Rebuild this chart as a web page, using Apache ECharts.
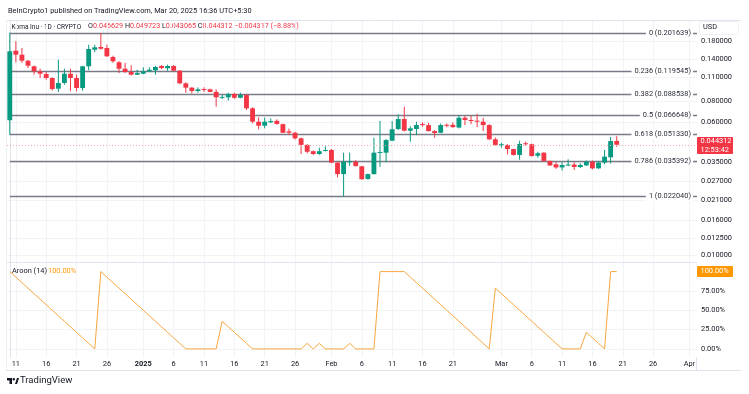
<!DOCTYPE html>
<html><head><meta charset="utf-8">
<script src="https://cdn.jsdelivr.net/npm/echarts@6/dist/echarts.min.js"></script>
<style>html,body{margin:0;padding:0;background:#fff}#c{width:749px;height:394px}</style>
</head><body><div id="c"></div>
<script>
// ---------------- data ----------------
const dates = ['2024-12-10','2024-12-11','2024-12-12','2024-12-13','2024-12-14','2024-12-15','2024-12-16','2024-12-17','2024-12-18','2024-12-19','2024-12-20','2024-12-21','2024-12-22','2024-12-23','2024-12-24','2024-12-25','2024-12-26','2024-12-27','2024-12-28','2024-12-29','2024-12-30','2024-12-31',
'2025-01-01','2025-01-02','2025-01-03','2025-01-04','2025-01-05','2025-01-06','2025-01-07','2025-01-08','2025-01-09','2025-01-10','2025-01-11','2025-01-12','2025-01-13','2025-01-14','2025-01-15','2025-01-16','2025-01-17','2025-01-18','2025-01-19','2025-01-20','2025-01-21','2025-01-22','2025-01-23','2025-01-24','2025-01-25','2025-01-26','2025-01-27','2025-01-28','2025-01-29','2025-01-30','2025-01-31',
'2025-02-01','2025-02-02','2025-02-03','2025-02-04','2025-02-05','2025-02-06','2025-02-07','2025-02-08','2025-02-09','2025-02-10','2025-02-11','2025-02-12','2025-02-13','2025-02-14','2025-02-15','2025-02-16','2025-02-17','2025-02-18','2025-02-19','2025-02-20','2025-02-21','2025-02-22','2025-02-23','2025-02-24','2025-02-25','2025-02-26','2025-02-27','2025-02-28',
'2025-03-01','2025-03-02','2025-03-03','2025-03-04','2025-03-05','2025-03-06','2025-03-07','2025-03-08','2025-03-09','2025-03-10','2025-03-11','2025-03-12','2025-03-13','2025-03-14','2025-03-15','2025-03-16','2025-03-17','2025-03-18','2025-03-19','2025-03-20'];

const opens = [0.0617,0.1579,0.1496,0.1379,0.1279,0.1195,0.1152,0.1092,0.0945,0.1021,0.1157,0.1092,0.0954,0.1279,0.1600,0.1660,0.1638,0.1451,0.1350,0.1238,0.1184,0.1142,
0.1157,0.1195,0.1211,0.1284,0.1245,0.1284,0.1205,0.1016,0.0958,0.0916,0.0940,0.0937,0.0905,0.0841,0.0841,0.0880,0.0836,0.0868,0.0725,0.0605,0.0573,0.0600,0.0612,0.0585,0.0531,0.0521,0.0483,0.0442,0.0406,0.0391,0.0410,
0.0413,0.0348,0.0298,0.0350,0.0352,0.0331,0.0279,0.0298,0.0398,0.0398,0.0468,0.0548,0.0627,0.0536,0.0548,0.0586,0.0578,0.0533,0.0521,0.0580,0.0580,0.0559,0.0638,0.0619,0.0613,0.0605,0.0578,0.0477,
0.0442,0.0442,0.0418,0.0386,0.0452,0.0446,0.0382,0.0398,0.0356,0.0340,0.0326,0.0335,0.0339,0.0328,0.0335,0.0352,0.0322,0.0348,0.0374,0.046629];
const highs = [0.2016,0.1793,0.1638,0.1392,0.1290,0.1238,0.1184,0.1100,0.1398,0.1238,0.1238,0.1142,0.1285,0.1712,0.1712,0.2000,0.1712,0.1476,0.1372,0.1341,0.1296,0.1221,
0.1262,0.1262,0.1285,0.1300,0.1307,0.1300,0.1215,0.1030,0.0968,0.0962,0.0962,0.0945,0.0937,0.0868,0.0895,0.0895,0.0895,0.0875,0.0735,0.0642,0.0640,0.0632,0.0625,0.0590,0.0551,0.0528,0.0488,0.0447,0.0410,0.0426,0.0434,
0.0418,0.0350,0.0398,0.0398,0.0360,0.0333,0.0300,0.0487,0.0611,0.0478,0.0611,0.0668,0.0741,0.0569,0.0605,0.0600,0.0596,0.0540,0.0590,0.0590,0.0600,0.0662,0.0655,0.0655,0.0672,0.0638,0.0585,0.0488,
0.0455,0.0446,0.0420,0.0468,0.0462,0.0450,0.0403,0.0400,0.0358,0.0350,0.0350,0.0364,0.0350,0.0345,0.0358,0.0358,0.0356,0.0413,0.0492,0.049723];
const lows = [0.0507,0.1350,0.1341,0.1250,0.1142,0.1092,0.1067,0.0920,0.0904,0.0997,0.0912,0.0912,0.0920,0.1211,0.1551,0.1600,0.1451,0.1341,0.1168,0.1168,0.1130,0.1135,
0.1150,0.1184,0.1142,0.1230,0.1203,0.1195,0.1005,0.0895,0.0886,0.0895,0.0905,0.0900,0.0741,0.0823,0.0804,0.0823,0.0830,0.0708,0.0593,0.0546,0.0553,0.0593,0.0583,0.0518,0.0505,0.0475,0.0391,0.0394,0.0386,0.0386,0.0404,
0.0345,0.0285,0.02204,0.0333,0.0330,0.0276,0.0276,0.0296,0.0329,0.0350,0.0465,0.0541,0.0530,0.0462,0.0505,0.0565,0.0530,0.0487,0.0518,0.0560,0.0558,0.0553,0.0578,0.0585,0.0562,0.0533,0.0472,0.0438,
0.0425,0.0389,0.0383,0.0362,0.0438,0.0378,0.0372,0.0352,0.0333,0.0320,0.0313,0.0332,0.0315,0.0324,0.0333,0.0318,0.0320,0.0341,0.0344,0.043065];
const closes = [0.1566,0.1496,0.1379,0.1289,0.1195,0.1157,0.1092,0.0941,0.1021,0.1157,0.1092,0.0954,0.1279,0.1616,0.1653,0.1622,0.1464,0.1368,0.1238,0.1184,0.1142,0.1168,
0.1195,0.1221,0.1267,0.1250,0.1284,0.1205,0.1016,0.0958,0.0916,0.0937,0.0928,0.0905,0.0841,0.0846,0.0880,0.0836,0.0868,0.0725,0.0605,0.0573,0.0605,0.0610,0.0586,0.0521,0.0521,0.0483,0.0442,0.0403,0.0391,0.0406,0.0413,
0.0348,0.0298,0.0352,0.0354,0.0332,0.0278,0.0298,0.0398,0.0402,0.0472,0.0546,0.0627,0.0536,0.0553,0.0578,0.0578,0.0533,0.0519,0.0578,0.0575,0.0562,0.0638,0.0619,0.0611,0.0608,0.0578,0.0477,0.0442,
0.0446,0.0418,0.0386,0.0448,0.0446,0.0380,0.0395,0.0356,0.0335,0.0326,0.0337,0.0339,0.0328,0.0337,0.0352,0.0322,0.0348,0.0377,0.0466,0.044312];

// Aroon Up (14), same dates as the candles
const aroonUp = [100,92.86,85.71,78.57,71.43,64.29,57.14,50,42.86,35.71,28.57,21.43,14.29,7.14,0,
100,92.86,85.71,78.57,71.43,64.29,57.14,50,42.86,35.71,28.57,21.43,14.29,7.14,0,
0,0,0,0,0,35.71,28.57,21.43,14.29,7.14,0,
0,0,0,0,0,0,0,0,7.14,0,7.14,0,0,0,0,7.14,0,0,0,0,
100,100,100,100,100,
92.86,85.71,78.57,71.43,64.29,57.14,50,42.86,35.71,28.57,21.43,14.29,7.14,0,
78.57,71.43,64.29,57.14,50,42.86,35.71,28.57,21.43,14.29,7.14,0,
0,0,0,21.43,14.29,7.14,0,100,100];

const fibLevels = ['0','0.236','0.382','0.5','0.618','0.786','1'];
const fibPrices = [0.201639,0.119545,0.088538,0.066648,0.051330,0.035392,0.022040];
const fibStartDate = '2024-12-10';

const priceTicks = [0.18,0.14,0.11,0.08,0.06,0.035,0.027,0.021,0.016,0.0125,0.01];
const aroonTicks = [0,25,50,75];
const timeTickDates = ['2024-12-11','2024-12-16','2024-12-21','2024-12-26','2025-01-01','2025-01-06','2025-01-11','2025-01-16','2025-01-21','2025-01-26','2025-02-01','2025-02-06','2025-02-11','2025-02-16','2025-02-21','2025-03-01','2025-03-06','2025-03-11','2025-03-16','2025-03-21','2025-03-26','2025-04-01'];
const timeTickLabels = ['11','16','21','26','2025','6','11','16','21','26','Feb','6','11','16','21','Mar','6','11','16','21','26','Apr'];

const headerLine1 = 'BeInCrypto1 published on TradingView.com, Mar 20, 2025 16:36 UTC+5:30';
const symbolTitle = 'Koma Inu \u00b7 1D \u00b7 CRYPTO';
const ohlcKeys = ['O','H','L','C'];
const ohlcVals = ['0.046629','0.049723','0.043065','0.044312'];
const changeText = '\u22120.004317 (\u22128.88%)';
const lastTimer = '12:53:42';

// ---------------- helpers ----------------
const DAY = 86400000;
const base = Date.UTC(2024, 11, 10);
function dayIdx(s){ const p = s.split('-'); return (Date.UTC(+p[0], +p[1]-1, +p[2]) - base) / DAY; }
const xs = dates.map(dayIdx);
const tickIdx = timeTickDates.map(dayIdx);
const X_MIN = -0.46, X_MAX = 113.23;
const GREEN = '#089981', RED = '#f23645', ORANGE = '#ff9800';
const FONT = 'Roboto, Liberation Sans, Arial, sans-serif';
const FS = 7.4;

const candleData = xs.map((x,i)=>[x, opens[i], closes[i], lows[i], highs[i]]);
const aroonData = xs.map((x,i)=>[x, aroonUp[i]]);
const fibData = fibPrices.map((p,i)=>[dayIdx(fibStartDate), p, i]);
const n = dates.length - 1;

let ohlcRich = '';
ohlcKeys.forEach((k,i)=>{ ohlcRich += '{k|' + (i ? ' ' : '') + k + '}{r|' + ohlcVals[i] + '}'; });
ohlcRich += '{r| ' + changeText + '}';

const chart = echarts.init(document.getElementById('c'), null, {renderer:'canvas', width:749, height:394});

const option = {
  animation: false,
  backgroundColor: '#fff',
  textStyle: {fontFamily: FONT},
  grid: [
    {left: 7, right: 52, top: 21, height: 241},
    {left: 7, right: 52, top: 263, height: 94}
  ],
  xAxis: [
    {type:'value', gridIndex:0, min:X_MIN, max:X_MAX,
     axisLine:{show:false}, axisTick:{show:false, customValues:tickIdx},
     axisLabel:{show:false, customValues:tickIdx},
     splitLine:{show:true, lineStyle:{color:'#f2f3f6', width:1}}},
    {type:'value', gridIndex:1, min:X_MIN, max:X_MAX,
     axisLine:{show:false}, axisTick:{show:false, customValues:tickIdx},
     axisLabel:{show:true, customValues:tickIdx, margin:4, fontSize:FS, color:'#131722', fontFamily:FONT,
       formatter: v => { const k = tickIdx.indexOf(v); const t = timeTickLabels[k]; return t === '2025' ? '{b|' + t + '}' : t; },
       rich:{b:{fontWeight:'bold', fontSize:FS, color:'#131722', fontFamily:FONT}}},
     splitLine:{show:true, lineStyle:{color:'#f2f3f6', width:1}}}
  ],
  yAxis: [
    {type:'log', logBase:10, gridIndex:0, position:'right', min:0.009083, max:0.2359,
     axisLine:{show:true, lineStyle:{color:'#e0e3eb'}}, axisTick:{show:false, customValues:priceTicks},
     axisLabel:{customValues:priceTicks, formatter: v => (+v).toFixed(6), fontSize:FS, color:'#131722', margin:4, fontFamily:FONT},
     splitLine:{show:true, lineStyle:{color:'#f2f3f6', width:1}}},
    {type:'value', gridIndex:1, position:'right', min:-10.5, max:111.1,
     axisLine:{show:true, lineStyle:{color:'#e0e3eb'}}, axisTick:{show:false, customValues:aroonTicks},
     axisLabel:{customValues:aroonTicks, formatter: v => (+v).toFixed(2) + '%', fontSize:FS, color:'#131722', margin:4, fontFamily:FONT},
     splitLine:{show:true, lineStyle:{color:'#f2f3f6', width:1}}}
  ],
  series: [
    { // fibonacci retracement
      type:'custom', xAxisIndex:0, yAxisIndex:0, data: fibData, z: 2, clip:false,
      renderItem(params, api){
        const p = api.coord([api.value(0), api.value(1)]);
        const right = params.coordSys.x + params.coordSys.width;
        const y = Math.round(p[1]) + 0.5;
        const i = api.value(2);
        return {type:'group', children:[
          {type:'line', shape:{x1:p[0], y1:y, x2:right, y2:y}, style:{stroke:'#787b86', lineWidth:1.5}},
          {type:'text', x:right-4, y:y, style:{text: fibLevels[i] + ' (' + fibPrices[i].toFixed(6) + ')', align:'right', verticalAlign:'middle',
            font:FS + 'px ' + FONT, fill:'#2a2e39', backgroundColor:'#fff', padding:[1,2,1,3]}}
        ]};
      }
    },
    { // candles
      type:'custom', xAxisIndex:0, yAxisIndex:0, data: candleData, z: 3,
      encode:{x:0, y:[1,2,3,4]},
      renderItem(params, api){
        const x = api.value(0), o = api.value(1), c = api.value(2), l = api.value(3), h = api.value(4);
        const po = api.coord([x,o]), pc = api.coord([x,c]), pl = api.coord([x,l]), ph = api.coord([x,h]);
        const w = api.size([1,0])[0] * 0.8;
        const col = c >= o ? GREEN : RED;
        const top = Math.min(po[1], pc[1]), bot = Math.max(po[1], pc[1]);
        return {type:'group', children:[
          {type:'line', shape:{x1:po[0], y1:ph[1], x2:po[0], y2:pl[1]}, style:{stroke:col, lineWidth:1}},
          {type:'rect', shape:{x:po[0]-w/2, y:top, width:w, height:Math.max(bot-top, 1)}, style:{fill:col}}
        ]};
      }
    },
    { // last price line + badge
      type:'custom', xAxisIndex:0, yAxisIndex:0, data: [[xs[n], closes[n]]], z: 4, clip:false,
      renderItem(params, api){
        const p = api.coord([api.value(0), api.value(1)]);
        const cs = params.coordSys;
        const y = Math.round(p[1]) + 0.5;
        return {type:'group', children:[
          {type:'line', shape:{x1:cs.x, y1:y, x2:cs.x+cs.width, y2:y}, style:{stroke:'#f7a9b0', lineWidth:1, lineDash:[1,2]}},
          {type:'rect', shape:{x:cs.x+cs.width, y:y-8.5, width:36, height:17, r:1}, style:{fill:RED}},
          {type:'text', x:cs.x+cs.width+3.5, y:y-4.3, style:{text: closes[n].toFixed(6), verticalAlign:'middle', font:FS + 'px ' + FONT, fill:'#fff'}},
          {type:'text', x:cs.x+cs.width+3.5, y:y+4.3, style:{text: lastTimer, verticalAlign:'middle', font:FS + 'px ' + FONT, fill:'#fff'}}
        ]};
      }
    },
    { // aroon up
      type:'line', xAxisIndex:1, yAxisIndex:1, data: aroonData, showSymbol:false, z:3,
      lineStyle:{color:'#f9a63f', width:1}, emphasis:{disabled:true}
    },
    { // aroon badge + legend
      type:'custom', xAxisIndex:1, yAxisIndex:1, data: [[xs[n], aroonUp[n]]], z:4, clip:false,
      renderItem(params, api){
        const p = api.coord([api.value(0), api.value(1)]);
        const cs = params.coordSys;
        return {type:'group', children:[
          {type:'rect', shape:{x:cs.x+cs.width, y:p[1]-5.5, width:36, height:11, r:1}, style:{fill:ORANGE}},
          {type:'text', x:cs.x+cs.width+3.5, y:p[1], style:{text: aroonUp[n].toFixed(2) + '%', verticalAlign:'middle', font:FS + 'px ' + FONT, fill:'#fff'}},
          {type:'text', x:12, y:p[1], style:{text:'Aroon (14)', verticalAlign:'middle', font:FS + 'px ' + FONT, fill:'#131722'}},
          {type:'text', x:48, y:p[1], style:{text: aroonUp[n].toFixed(2) + '%', verticalAlign:'middle', font:FS + 'px ' + FONT, fill:ORANGE}}
        ]};
      }
    }
  ],
  graphic: [
    {type:'text', left:8, top:8, style:{text: headerLine1, font:FS + 'px ' + FONT, fill:'#131722'}},
    {type:'text', left:11.5, top:23.5, style:{text: symbolTitle, font:'6.5px ' + FONT, fill:'#131722'}},
    {type:'text', left:88, top:23, style:{
      rich:{k:{fill:'#131722', font:'7.2px ' + FONT}, r:{fill:RED, font:'7.2px ' + FONT}},
      text: ohlcRich
    }},
    {type:'line', shape:{x1:6.5, y1:20.5, x2:741, y2:20.5}, style:{stroke:'#e0e3eb', lineWidth:1}},
    {type:'line', shape:{x1:6.5, y1:20.5, x2:6.5, y2:370.5}, style:{stroke:'#eef0f3', lineWidth:1}},
    {type:'line', shape:{x1:6.5, y1:262.5, x2:697, y2:262.5}, style:{stroke:'#e0e3eb', lineWidth:1}},
    {type:'line', shape:{x1:6.5, y1:370.5, x2:741, y2:370.5}, style:{stroke:'#e0e3eb', lineWidth:1}},
    {type:'line', shape:{x1:696.5, y1:357, x2:696.5, y2:370}, style:{stroke:'#e0e3eb', lineWidth:1}},
    {type:'rect', shape:{x:699.5, y:21.5, width:39, height:13, r:2}, style:{fill:'#fff', stroke:'#eef0f3'}},
    {type:'text', left:703, top:24, style:{text:'USD', font:FS + 'px ' + FONT, fill:'#131722'}},
    {type:'text', left:20, top:376, style:{text:'TradingView', font:'9.5px ' + FONT, fill:'#131722'}},
    {type:'group', left:7, top:378, children:[
      {type:'rect', shape:{x:0, y:0, width:5, height:2.5}, style:{fill:'#131722'}},
      {type:'rect', shape:{x:2.5, y:0, width:2.5, height:6}, style:{fill:'#131722'}},
      {type:'circle', shape:{cx:6.8, cy:1.3, r:1.2}, style:{fill:'#131722'}},
      {type:'polygon', shape:{points:[[8,6],[10,0],[12,0],[10,6]]}, style:{fill:'#131722'}}
    ]}
  ]
};
chart.setOption(option);
</script>
</body></html>
